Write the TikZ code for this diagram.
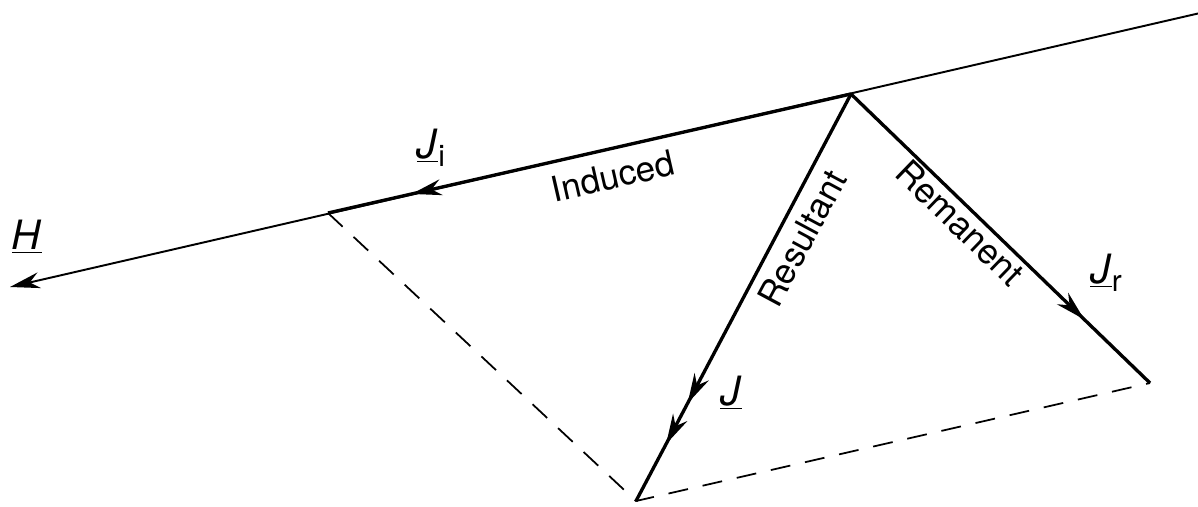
\documentclass[tikz,border=0pt]{standalone}
\usepackage{fontspec}
\setmainfont{TeX Gyre Heros}
\usetikzlibrary{arrows.meta, decorations.markings, calc}

\tikzset{
  tip/.style={-{Stealth[length=6mm, width=3.2mm]}},
  midarrow/.style={postaction={decorate}, decoration={markings,
      mark=at position #1 with {\arrow{Stealth[length=6mm, width=3.2mm]}}}},
  twoarrows/.style 2 args={postaction={decorate}, decoration={markings,
      mark=at position #1 with {\arrow{Stealth[length=6mm, width=3.2mm]}},
      mark=at position #2 with {\arrow{Stealth[length=6mm, width=3.2mm]}}}},
  vecline/.style={line width=1.9pt},
  fieldline/.style={line width=1.1pt},
  guide/.style={line width=1pt, dash pattern=on 4mm off 3mm},
  lbl/.style={font=\fontsize{20}{24}\selectfont, inner sep=1pt},
  symlbl/.style={font=\fontsize{23}{27}\selectfont, inner sep=1pt},
}
\newcommand{\vlabel}[2]{\underline{\textit{#1}}\raisebox{-0.4ex}{\fontsize{17}{20}\selectfont #2}}

\begin{document}
\begin{tikzpicture}
    \useasboundingbox (0,0) rectangle (23.96,10.12);

    % points of the vector triangle
    \coordinate (V) at (17.02,8.24);
    \coordinate (L) at (0.2,4.38);
    \coordinate (T) at (23.96,9.85);
    \coordinate (Ji) at (6.56,5.86);
    \coordinate (B) at (12.72,0.1);
    \coordinate (R) at (23.0,2.46);

    % field direction H
    \draw[fieldline, tip] (T) -- (L);
    \node[symlbl] (hlab) at (0.54,5.38) {\underline{\textit{H}}};

    % induced, remanent and resultant vectors
    \draw[vecline, midarrow=0.84] (V) -- (Ji);
    \draw[vecline, midarrow=0.78] (V) -- (R);
    \draw[vecline, twoarrows={0.76}{0.86}] (V) -- (B);

    % parallelogram completion
    \draw[guide] (Ji) -- (B) -- (R);

    % labels
    \node[symlbl] (jilab) at (8.62,7.16) {\vlabel{J}{i}};
    \node[lbl, rotate=12.9] (induced) at (12.26,6.6) {Induced};
    \node[lbl, rotate=61.8] (resultant) at (16.04,5.36) {Resultant};
    \node[lbl, rotate=-44] (remanent) at (19.2,5.66) {Remanent};
    \node[symlbl] (jrlab) at (22.12,4.66) {\vlabel{J}{r}};
    \node[symlbl] (jlab) at (14.62,2.26) {\underline{\textit{J}}};
\end{tikzpicture}
\end{document}
